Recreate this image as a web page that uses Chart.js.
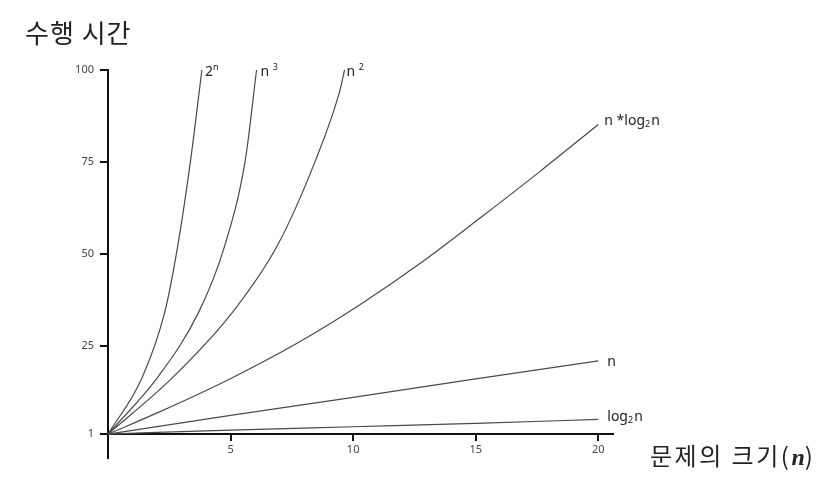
<!DOCTYPE html>
<html>
<head>
<meta charset="utf-8">
<title>수행 시간</title>
<script src="https://cdn.jsdelivr.net/npm/chart.js@4.4.1/dist/chart.umd.min.js"></script>
<style>
  html, body { margin: 0; padding: 0; background: #fff; }
  #wrap { position: relative; width: 825px; height: 483px; }
  .axis-title {
    position: absolute;
    font-family: "Noto Sans CJK KR", "Noto Sans", sans-serif;
    line-height: 1;
    color: #222;
    white-space: nowrap;
  }
  #yTitle { left: 25px; top: 19px; font-size: 26px; letter-spacing: 1px; }
  #xTitle { left: 650px; top: 443px; font-size: 24px; letter-spacing: 2.5px; }
  #xTitle i { font-family: "Liberation Serif", serif; font-style: italic; font-weight: bold; letter-spacing: 0; }
</style>
</head>
<body>
<div id="wrap">
  <canvas id="growthChart" width="825" height="483"></canvas>
  <div class="axis-title" id="yTitle">수행 시간</div>
  <div class="axis-title" id="xTitle">문제의 크기(<i>n</i>)</div>
</div>
<script>
// tick labels
const xTicks = [5, 10, 15, 20];
const yTicks = [1, 25, 50, 75, 100];

// curve values (n -> time)
const pow2N = [0, 1.38, 2.32, 2.85, 3.37, 3.83];
const pow2T = [1, 16.2, 34.3, 52.4, 75.5, 100];

const cubeN = [0, 2.0, 3.71, 4.77, 5.60, 6.06];
const cubeT = [1, 16.2, 34.3, 52.4, 75.5, 100];

const squareN = [0, 2.61, 5.10, 6.92, 8.47, 9.43, 9.65];
const squareT = [1, 16.2, 34.3, 52.4, 75.5, 93.7, 100];

const nlognN = [0, 2.12, 4.97, 7.82, 10.26, 12.71, 15.15, 17.60, 20];
const nlognT = [1, 7.1, 16.0, 26.1, 36.1, 47.3, 59.6, 72.3, 85.2];

const linearN = [0, 5, 10, 15, 20];
const linearT = [1, 6.1, 11.0, 16.0, 20.9];

const logN = [0, 5, 10, 15, 20];
const logT = [1, 2.1, 3.0, 3.9, 5.0];

// label pieces: [text, 'sup' | 'sub' | '']
const curveLabels = [
    [['2', ''], ['n', 'sup']],
    [['n ', ''], ['3', 'sup']],
    [['n ', ''], ['2', 'sup']],
    [['n *log', ''], ['2', 'sub'], ['n', '']],
    [['n', '']],
    [['log', ''], ['2', 'sub'], ['n', '']]
];
// label offset from the end of each curve
const labelNudge = [[3, 6], [4, 6], [2, 6], [6, 1], [9, 5], [9, 2]];

function toPoints(xs, ys) {
    return xs.map((x, i) => ({ x: x, y: ys[i] }));
}

function curve(xs, ys) {
    return {
        data: toPoints(xs, ys),
        borderColor: '#4a4a4a',
        borderWidth: 1.2,
        pointRadius: 0,
        fill: false,
        cubicInterpolationMode: 'monotone',
        clip: false
    };
}

const endLabels = {
    id: 'endLabels',
    afterDatasetsDraw(chart) {
        const ctx = chart.ctx;
        ctx.save();
        ctx.fillStyle = '#222';
        ctx.textBaseline = 'alphabetic';
        ctx.textAlign = 'left';
        chart.data.datasets.forEach((ds, i) => {
            const pts = chart.getDatasetMeta(i).data;
            const last = pts[pts.length - 1];
            let x = last.x + labelNudge[i][0];
            const base = last.y + labelNudge[i][1];
            curveLabels[i].forEach(([txt, kind]) => {
                let y = base;
                if (kind === 'sup') {
                    ctx.font = '9px "Noto Sans"';
                    y = base - 6;
                } else if (kind === 'sub') {
                    ctx.font = '9px "Noto Sans"';
                    y = base + 2;
                } else {
                    ctx.font = '14px "Noto Sans"';
                }
                ctx.fillText(txt, x, y);
                x += ctx.measureText(txt).width + (kind ? 1 : 0);
            });
        });
        ctx.restore();
    }
};

Chart.defaults.font.family = '"Noto Sans", sans-serif';

const ctx = document.getElementById('growthChart').getContext('2d');
const growthChart = new Chart(ctx, {
    type: 'line',
    data: {
        datasets: [
            curve(pow2N, pow2T),
            curve(cubeN, cubeT),
            curve(squareN, squareT),
            curve(nlognN, nlognT),
            curve(linearN, linearT),
            curve(logN, logT)
        ]
    },
    options: {
        responsive: false,
        animation: false,
        layout: { padding: { left: 0, top: 70, right: 212, bottom: 25 } },
        plugins: {
            legend: { display: false },
            tooltip: { enabled: false }
        },
        scales: {
            x: {
                type: 'linear',
                min: 0,
                max: 20.6,
                position: { y: 1 },
                afterBuildTicks: (s) => { s.ticks = xTicks.map(v => ({ value: v })); },
                afterFit: (s) => { s.height = 0; },
                grid: { drawOnChartArea: false, tickLength: 6, color: '#111', lineWidth: 2 },
                border: { color: '#111', width: 2 },
                ticks: { padding: 3, color: '#444', font: { size: 11 } }
            },
            y: {
                min: -5.5,
                max: 100,
                afterBuildTicks: (s) => { s.ticks = yTicks.map(v => ({ value: v })); },
                afterFit: (s) => { s.width = 108; },
                grid: { drawOnChartArea: false, tickLength: 8, color: '#111', lineWidth: 2 },
                border: { color: '#111', width: 2 },
                ticks: { padding: 6, color: '#444', font: { size: 11 } }
            }
        }
    },
    plugins: [endLabels]
});
</script>
</body>
</html>
